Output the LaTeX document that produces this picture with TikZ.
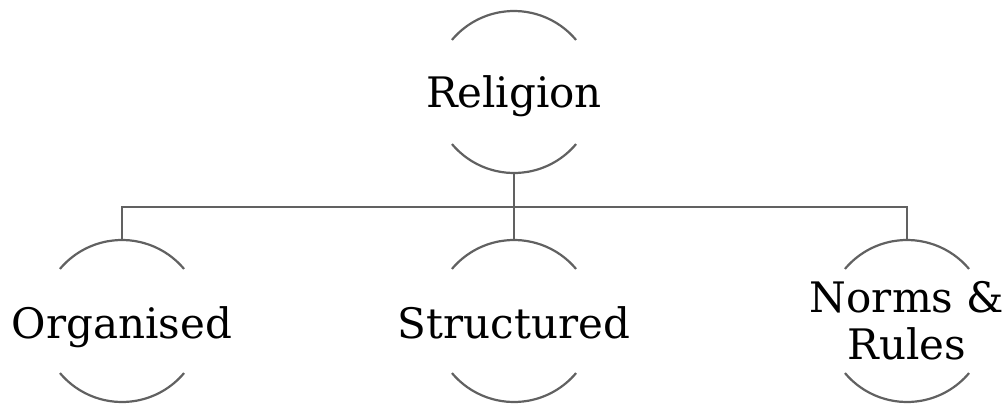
\documentclass[tikz,border=0pt]{standalone}
\usepackage{fontspec}
\setmainfont{DejaVu Serif}
\begin{document}
\begin{tikzpicture}[x=1pt,y=-1pt,
  ring/.style={circle,draw=none,minimum size=162pt,inner sep=0pt,outer sep=0pt},
  lab/.style={font=\fontsize{42}{47}\selectfont,align=center,inner sep=0pt},
  arcline/.style={draw=black!62,line width=2.2pt},
  conn/.style={draw=black!62,line width=2.3pt}]
\useasboundingbox (0,0) rectangle (1006,404);
\node[ring] (r) at (514,92) {};
\node[ring] (o) at (122,321) {};
\node[ring] (s) at (514,321) {};
\node[ring] (n) at (907,321) {};
\node[lab,anchor=base] (rt) at (514,107) {Religion};
\node[lab,anchor=base] (ot) at (122,338) {Organised};
\node[lab,anchor=base] (st) at (514,338) {Structured};
\node[lab] (nt) at (n.center) {Norms \&\\Rules};
\foreach \c in {r,o,s,n}{
  \draw[arcline] (\c.40) arc[start angle=40,end angle=140,radius=81pt];
  \draw[arcline] (\c.220) arc[start angle=220,end angle=320,radius=81pt];
}
\coordinate (j) at (514,207);
\draw[conn] (r.south) -- (j);
\draw[conn] (j) -- (s.north);
\draw[conn] (o.north) |- (j) -| (n.north);
\end{tikzpicture}
\end{document}
